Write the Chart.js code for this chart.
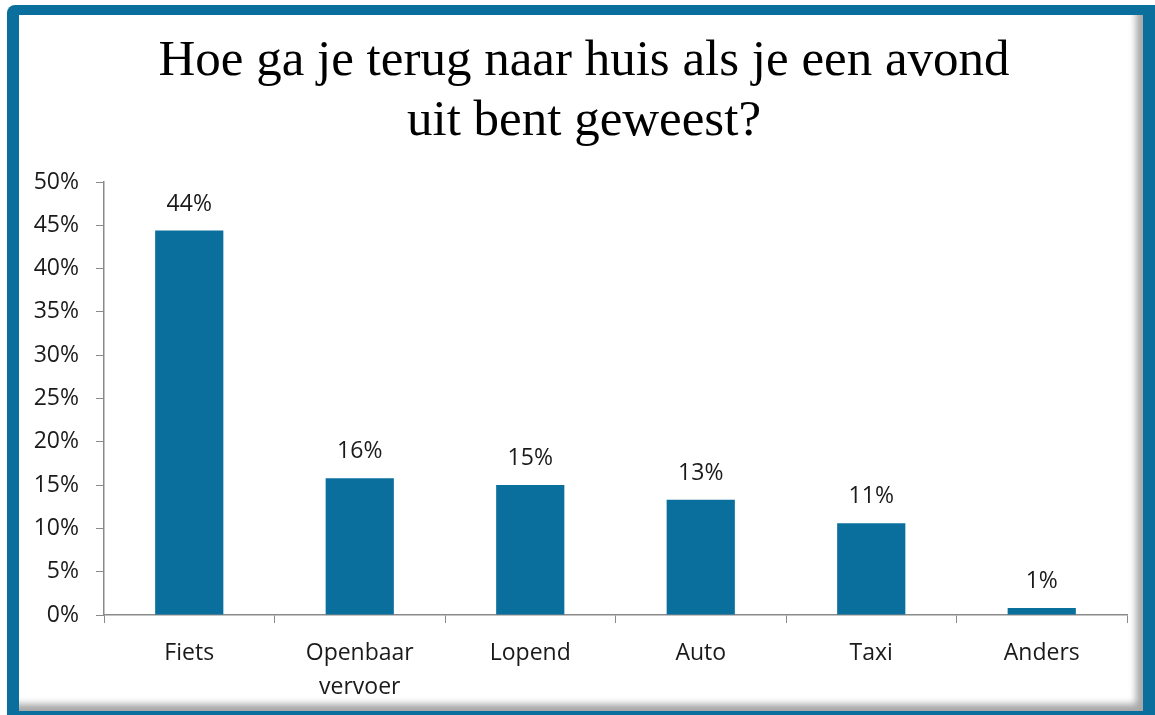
<!DOCTYPE html>
<html>
<head>
<meta charset="utf-8">
<script src="https://cdn.jsdelivr.net/npm/chart.js@4.4.1/dist/chart.umd.min.js"></script>
<style>
  html, body { margin: 0; padding: 0; width: 1155px; height: 715px; overflow: hidden; background: #fff; }
  .frame {
    position: absolute; left: 7px; top: 5px; width: 1160px; height: 725px;
    background: #0a6f9c; border-radius: 8px;
  }
  .panel {
    position: absolute; left: 12px; top: 10px; width: 1124px; height: 696px;
    background: #fff;
    box-shadow: inset -7px -7px 7px rgba(0,0,0,0.35);
  }
  #chart { position: absolute; left: 0; top: 0; }
</style>
</head>
<body>
<div class="frame"><div class="panel"></div></div>
<canvas id="chart" width="1155" height="715"></canvas>
<script>
const categories = ["Fiets", ["Openbaar", "vervoer"], "Lopend", "Auto", "Taxi", "Anders"];
const shares = [44.4, 15.8, 15.0, 13.3, 10.6, 0.8];
const yTicks = [0, 5, 10, 15, 20, 25, 30, 35, 40, 45, 50];
const titleLines = ["Hoe ga je terug naar huis als je een avond", "uit bent geweest?"];

const barColor = "#0a6f9c";
const axisColor = "#8a8a8a";
const textColor = "#1a1a1a";

// title is drawn by hand so it can sit a bit right of the canvas centre, like the original
const headTitle = {
  id: "headTitle",
  afterDraw(chart) {
    const ctx = chart.ctx;
    ctx.save();
    ctx.font = "51px 'Liberation Serif'";
    ctx.fillStyle = "#000";
    ctx.textAlign = "center";
    ctx.textBaseline = "alphabetic";
    titleLines.forEach((line, i) => ctx.fillText(line, 584, 75 + i * 60));
    ctx.restore();
  }
};

const valueLabels = {
  id: "valueLabels",
  afterDatasetsDraw(chart) {
    const ctx = chart.ctx;
    const meta = chart.getDatasetMeta(0);
    ctx.save();
    ctx.font = "23px 'Open Sans'";
    ctx.fillStyle = textColor;
    ctx.textAlign = "center";
    ctx.textBaseline = "bottom";
    meta.data.forEach((bar, i) => {
      ctx.fillText(Math.round(shares[i]) + "%", bar.x, bar.y - 15);
    });
    ctx.restore();
  }
};

new Chart(document.getElementById("chart"), {
  type: "bar",
  data: {
    labels: categories,
    datasets: [{ data: shares, backgroundColor: barColor, categoryPercentage: 1, barPercentage: 0.4 }],
  },
  options: {
    responsive: false,
    animation: false,
    layout: { padding: { left: 0, right: 28, top: 182, bottom: 0 } },
    plugins: {
      legend: { display: false },
      tooltip: { enabled: false },
      title: { display: false },
    },
    scales: {
      x: {
        grid: { display: true, drawOnChartArea: false, drawTicks: true, tickLength: 8, color: axisColor, offset: true },
        border: { color: axisColor, width: 1.5 },
        ticks: { color: textColor, font: { family: "'Open Sans'", size: 23, lineHeight: 1.45 }, padding: 14, maxRotation: 0 },
        afterFit(scale) { scale.height = 100; },
      },
      y: {
        min: 0,
        max: 50,
        afterBuildTicks(scale) { scale.ticks = yTicks.map(v => ({ value: v })); },
        grid: { display: true, drawOnChartArea: false, drawTicks: true, tickLength: 8, color: axisColor },
        border: { color: axisColor, width: 1.5 },
        ticks: { color: textColor, font: { family: "'Open Sans'", size: 23 }, padding: 17, callback: v => v + "%" },
        afterFit(scale) { scale.width = 104; },
      },
    },
  },
  plugins: [valueLabels, headTitle],
});
</script>
</body>
</html>
